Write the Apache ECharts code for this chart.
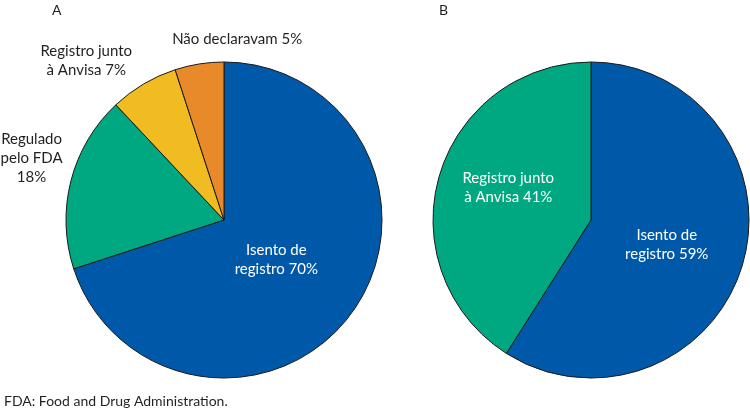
<!DOCTYPE html>
<html><head><meta charset="utf-8">
<script src="https://cdn.jsdelivr.net/npm/echarts@6/dist/echarts.min.js"></script>
<style>html,body{margin:0;padding:0;background:#fff}#c{width:750px;height:409px}</style>
</head><body><div id="c"></div>
<script>
const namesA = ['Isento de\nregistro', 'Regulado\npelo FDA\n', 'Registro junto\nà Anvisa', 'Não declaravam'];
const valuesA = [70, 18, 7, 5];
const namesB = ['Isento de\nregistro', 'Registro junto\nà Anvisa'];
const valuesB = [59, 41];
const colorsA = ['#0058A9', '#00A882', '#F0BC22', '#E88A2A'];
const colorsB = ['#0058A9', '#00A882'];
const panelLabels = ['A', 'B'];
const footnote = 'FDA: Food and Drug Administration.';

const FONT = 'Lato, "Open Sans", sans-serif';
const offsetsA = [[-14, -9], [-113, -41], [-96, -89], [26, -100]];
const labelColorsA = ['#fff', '#231f20', '#231f20', '#231f20'];
const offsetsB = [[-3, 2], [-4, -9]];
const labelColorsB = ['#fff', '#fff'];

function mk(names, values, colors, offsets, lcolors) {
  return names.map((n, i) => ({
    name: n, value: values[i],
    itemStyle: { color: colors[i] },
    label: { offset: offsets[i], color: lcolors[i] }
  }));
}
const chart = echarts.init(document.getElementById('c'), null, { renderer: 'canvas' });
const common = {
  type: 'pie', radius: 158, startAngle: 90, clockwise: true, animation: false,
  silent: true,
  itemStyle: { borderColor: '#1a1a1a', borderWidth: 1 },
  labelLine: { show: false },
  label: {
    show: true, position: 'inside', fontFamily: FONT, fontSize: 15, lineHeight: 19,
    align: 'center',
    formatter: p => p.name + (p.name.endsWith('\n') ? '' : ' ') + p.value + '%'
  }
};
chart.setOption({
  backgroundColor: '#fff',
  title: [
    { text: panelLabels[0], left: 47, top: -2, textStyle: { fontFamily: FONT, fontSize: 14, fontWeight: 'normal', color: '#231f20' } },
    { text: panelLabels[1], left: 434, top: -2, textStyle: { fontFamily: FONT, fontSize: 14, fontWeight: 'normal', color: '#231f20' } },
    { text: footnote, left: -1, top: 389, textStyle: { fontFamily: FONT, fontSize: 14, fontWeight: 'normal', color: '#231f20' } }
  ],
  series: [
    Object.assign({}, common, { center: [224, 220], data: mk(namesA, valuesA, colorsA, offsetsA, labelColorsA) }),
    Object.assign({}, common, { center: [591, 220], data: mk(namesB, valuesB, colorsB, offsetsB, labelColorsB) })
  ]
});
</script></body></html>
